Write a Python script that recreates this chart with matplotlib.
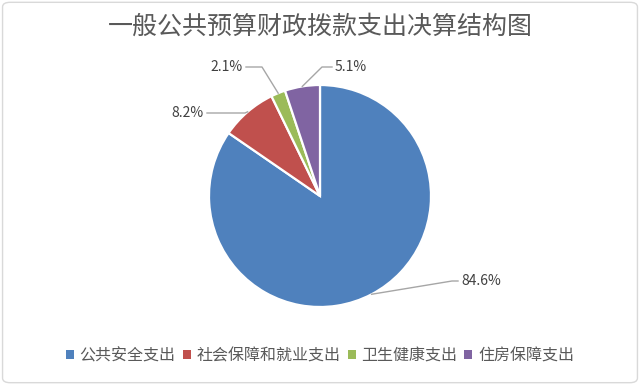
import numpy as np
import matplotlib
matplotlib.use("Agg")
import matplotlib.pyplot as plt
from matplotlib.patches import FancyBboxPatch, Patch

plt.rcParams['font.family'] = ['Noto Sans CJK SC', 'DejaVu Sans']

title = "一般公共预算财政拨款支出决算结构图"
categories = ["公共安全支出", "社会保障和就业支出", "卫生健康支出", "住房保障支出"]
values = [84.6, 8.2, 2.1, 5.1]
labels = ["84.6%", "8.2%", "2.1%", "5.1%"]
colors = ["#4F81BD", "#C0504D", "#9BBB59", "#8064A2"]

W, H = 640, 385
fig = plt.figure(figsize=(W / 100, H / 100), dpi=100)
fig.patches.append(FancyBboxPatch((0.004, 0.006), 0.992, 0.988,
                                  boxstyle="round,pad=0,rounding_size=0.012",
                                  transform=fig.transFigure, facecolor="white",
                                  edgecolor="#D9D9D9", linewidth=1.0, zorder=-10))
ax = fig.add_axes([0, 0, 1, 1])
ax.patch.set_alpha(0)

cx, cy_px, r = 320, 196, 111
cy = H - cy_px

wedges, _ = ax.pie(values, colors=colors, startangle=90, counterclock=False,
                   center=(cx, cy), radius=r,
                   wedgeprops=dict(edgecolor="white", linewidth=1.6))
ax.set_xlim(0, W)
ax.set_ylim(0, H)
ax.set_aspect('auto')
ax.axis('off')

# leader lines and labels: (elbow, end, ha) in pixels
layout = [
    ((452, 281), (458, 281), "left"),
    ((245, 113), (207, 113), "right"),
    ((262, 67), (246, 67), "right"),
    ((322, 67), (332, 67), "left"),
]
line_c = "#A6A6A6"
txt_c = "#404040"
for w, lab, (elbow, end, ha) in zip(wedges, labels, layout):
    ang = np.deg2rad((w.theta1 + w.theta2) / 2)
    px = cx + r * np.cos(ang)
    py = cy + r * np.sin(ang)
    ex, ey = elbow[0], H - elbow[1]
    tx, ty = end[0], H - end[1]
    ax.plot([px, ex, tx], [py, ey, ty], color=line_c, lw=1.0)
    off = 3 if ha == "left" else -3
    ax.text(tx + off, ty, lab, ha=ha, va="center", fontsize=10, color=txt_c)

fig.text(0.5, 1 - 27 / H, title, ha="center", va="center", fontsize=18, color="#595959")

handles = [Patch(facecolor=c, edgecolor="none") for c in colors]
leg = fig.legend(handles, categories, loc="center", bbox_to_anchor=(0.5, 1 - 356 / H),
                 ncol=4, frameon=False, fontsize=11.5, handlelength=0.5, handleheight=0.5,
                 handletextpad=0.35, columnspacing=0.45, borderaxespad=0)
for t in leg.get_texts():
    t.set_color("#595959")

fig.savefig("out.png", dpi=100)
